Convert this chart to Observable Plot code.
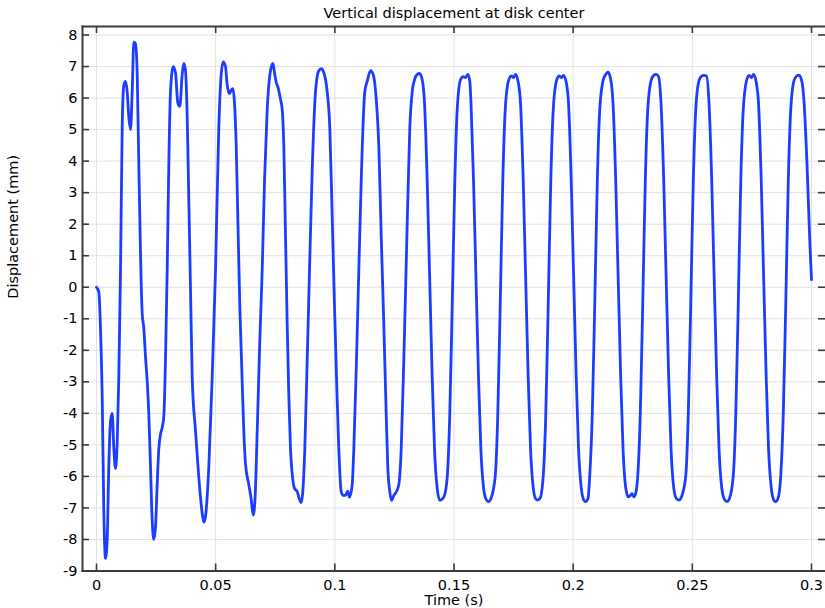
<!DOCTYPE html>
<html>
<head>
<meta charset="utf-8">
<script src="https://cdn.jsdelivr.net/npm/d3@7"></script>
<script src="https://cdn.jsdelivr.net/npm/@observablehq/plot@0.6"></script>
<style>
html, body { margin: 0; padding: 0; background: #fff; overflow: hidden; }
</style>
</head>
<body>
<div id="chart"></div>
<script>
const title = "Vertical displacement at disk center";
const xLabel = "Time (s)";
const yLabel = "Displacement (mm)";
const xTicks = [0, 0.05, 0.1, 0.15, 0.2, 0.25, 0.3];
const yTicks = [-9, -8, -7, -6, -5, -4, -3, -2, -1, 0, 1, 2, 3, 4, 5, 6, 7, 8];

// time (s)
const time = [
  0, 0.00097, 0.00168, 0.00239, 0.00306, 0.00378, 0.00449, 0.00516, 0.00587, 0.00659,
  0.00726, 0.00797, 0.00869, 0.00936, 0.01007, 0.01078, 0.01145, 0.01217, 0.01288, 0.01355,
  0.01427, 0.01498, 0.01565, 0.01636, 0.01708, 0.01775, 0.01846, 0.01917, 0.01985, 0.02056,
  0.02127, 0.02194, 0.02266, 0.02337, 0.02404, 0.02476, 0.02547, 0.02614, 0.02685, 0.02757,
  0.02824, 0.02895, 0.02966, 0.03034, 0.03105, 0.03218, 0.03315, 0.03411, 0.03495, 0.03596,
  0.03663, 0.03734, 0.03806, 0.03873, 0.03944, 0.04015, 0.04154, 0.04292, 0.04435, 0.04502,
  0.04573, 0.04712, 0.04855, 0.04993, 0.05131, 0.05232, 0.05316, 0.05413, 0.05484, 0.05580,
  0.05652, 0.05719, 0.05790, 0.05862, 0.05929, 0.06013, 0.06084, 0.06180, 0.06252, 0.06390,
  0.06491, 0.06575, 0.06659, 0.06743, 0.06852, 0.06952, 0.07049, 0.07162, 0.07301, 0.07406,
  0.07469, 0.07552, 0.07607, 0.07720, 0.07792, 0.07859, 0.07930, 0.08001, 0.08069, 0.08140,
  0.08211, 0.08308, 0.08421, 0.08488, 0.08589, 0.08656, 0.08740, 0.08841, 0.08937, 0.09050,
  0.09189, 0.09327, 0.09428, 0.09537, 0.09680, 0.09789, 0.09890, 0.09986, 0.10070, 0.10166,
  0.10267, 0.10351, 0.10448, 0.10544, 0.10615, 0.10729, 0.10796, 0.10909, 0.11006, 0.11119,
  0.11257, 0.11358, 0.11497, 0.11610, 0.11748, 0.11845, 0.11945, 0.12055, 0.12155, 0.12222,
  0.12306, 0.12378, 0.12474, 0.12587, 0.12684, 0.12785, 0.12894, 0.13007, 0.13145, 0.13246,
  0.13343, 0.13456, 0.13552, 0.13666, 0.13762, 0.13876, 0.13972, 0.14085, 0.14182, 0.14295,
  0.14404, 0.14505, 0.14601, 0.14715, 0.14824, 0.14924, 0.15034, 0.15134, 0.15273, 0.15386,
  0.15483, 0.15579, 0.15663, 0.15713, 0.15818, 0.15915, 0.16028, 0.16125, 0.16238, 0.16343,
  0.16448, 0.16552, 0.16729, 0.16838, 0.16938, 0.17048, 0.17148, 0.17287, 0.17400, 0.17497,
  0.17580, 0.17694, 0.17790, 0.17904, 0.18000, 0.18113, 0.18210, 0.18323, 0.18432, 0.18504,
  0.18608, 0.18743, 0.18852, 0.18952, 0.19062, 0.19162, 0.19301, 0.19414, 0.19511, 0.19594,
  0.19708, 0.19804, 0.19918, 0.20014, 0.20127, 0.20224, 0.20337, 0.20446, 0.20518, 0.20622,
  0.20694, 0.20803, 0.20904, 0.21013, 0.21113, 0.21252, 0.21365, 0.21462, 0.21575, 0.21671,
  0.21785, 0.21881, 0.21994, 0.22091, 0.22204, 0.22313, 0.22406, 0.22469, 0.22544, 0.22636,
  0.22708, 0.22817, 0.22917, 0.23027, 0.23127, 0.23266, 0.23379, 0.23476, 0.23572, 0.23685,
  0.23799, 0.23895, 0.24008, 0.24105, 0.24218, 0.24327, 0.24462, 0.24566, 0.24722, 0.24831,
  0.24931, 0.25041, 0.25141, 0.25280, 0.25393, 0.25490, 0.25594, 0.25699, 0.25813, 0.25909,
  0.26022, 0.26119, 0.26232, 0.26341, 0.26455, 0.26559, 0.26715, 0.26824, 0.26925, 0.27034,
  0.27134, 0.27273, 0.27386, 0.27483, 0.27566, 0.27680, 0.27776, 0.27890, 0.27986, 0.28099,
  0.28196, 0.28309, 0.28418, 0.28490, 0.28594, 0.28708, 0.28817, 0.28918, 0.29027, 0.29127,
  0.29266, 0.29379, 0.29476, 0.29589, 0.29685, 0.29812, 0.29937, 0.30000
];

// vertical displacement (mm)
const displacement = [
  0, -0.15, -1.3, -3.45, -7.05, -8.6, -8.0, -5.7, -4.25, -4.0,
  -5.1, -5.75, -4.9, -2.85, 0.53, 5.05, 6.4, 6.53, 6.2, 5.4,
  5.0, 6.2, 7.77, 7.72, 6.75, 3.9, 1.1, -0.83, -1.3, -2.2,
  -2.98, -4.0, -5.7, -7.4, -8.0, -7.6, -6.25, -5.13, -4.67, -4.45,
  -4.1, -2.3, 0.53, 3.9, 6.2, 7.0, 6.8, 5.85, 5.74, 6.75,
  7.1, 6.87, 5.4, 2.8, -0.05, -2.85, -4.56, -6.03, -7.17, -7.45,
  -7.27, -5.7, -2.85, 0.53, 5.05, 6.75, 7.15, 7.0, 6.42, 6.14,
  6.25, 6.3, 5.85, 4.5, 2.23, -0.6, -2.3, -4.56, -5.6, -6.26,
  -6.72, -7.23, -6.6, -4.56, -1.7, 0.53, 3.36, 5.63, 6.87, 7.1,
  6.8, 6.47, 6.36, 5.96, 5.63, 4.5, 1.66, -1.17, -3.43, -5.13,
  -5.92, -6.38, -6.48, -6.66, -6.83, -6.48, -5.13, -2.3, 0.53, 3.7,
  6.2, 6.87, 6.93, 6.81, 6.2, 5.05, 2.23, -0.6, -2.85, -5.13,
  -6.48, -6.6, -6.6, -6.47, -6.66, -6.26, -5.13, -2.3, 0.53, 3.7,
  6.2, 6.53, 6.87, 6.75, 5.85, 4.5, 1.66, -1.17, -4.0, -5.7,
  -6.48, -6.76, -6.6, -6.48, -6.26, -5.13, -2.3, 1.1, 5.05, 6.2,
  6.58, 6.75, 6.78, 6.58, 5.85, 3.36, 0.53, -2.85, -5.13, -6.38,
  -6.76, -6.72, -6.6, -6.03, -4.0, -0.6, 3.36, 5.63, 6.58, 6.68,
  6.65, 6.75, 6.53, 5.85, 3.4, 0.5, -2.85, -5.1, -6.35, -6.72,
  -6.8, -6.7, -6.0, -4.0, -0.6, 3.4, 5.6, 6.55, 6.7, 6.65,
  6.75, 6.5, 5.85, 3.4, 0.5, -2.85, -5.1, -6.35, -6.72, -6.75,
  -6.7, -6.0, -4.0, -0.6, 3.4, 5.6, 6.55, 6.7, 6.65, 6.72,
  6.5, 5.85, 3.4, 0.5, -2.85, -5.1, -6.35, -6.75, -6.8, -6.7,
  -6.0, -4.0, -0.6, 3.4, 5.6, 6.55, 6.75, 6.82, 6.6, 5.85,
  3.4, 0.5, -2.85, -5.1, -6.35, -6.65, -6.6, -6.55, -6.65, -6.5,
  -6.0, -4.0, -0.6, 3.4, 5.6, 6.55, 6.72, 6.75, 6.7, 5.85,
  3.4, 0.5, -2.85, -5.1, -6.35, -6.7, -6.75, -6.6, -6.0, -4.0,
  -0.6, 3.4, 5.6, 6.55, 6.7, 6.72, 6.7, 5.85, 3.4, 0.5,
  -2.85, -5.1, -6.35, -6.72, -6.8, -6.7, -6.0, -4.0, -0.6, 3.4,
  5.6, 6.55, 6.72, 6.65, 6.75, 6.5, 5.85, 3.4, 0.5, -2.85,
  -5.1, -6.35, -6.75, -6.8, -6.7, -6.0, -4.0, -0.6, 3.4, 5.6,
  6.55, 6.7, 6.73, 6.55, 5.9, 3.9, 1.3, 0.24
];

const data = time.map((t, i) => ({t, v: displacement[i]}));

const W = 825, H = 608;
const mT = 26, mB = 37.5, mL = 82, mR = 0;
const fw = W - mL - mR, fh = H - mT - mB;
const axisColor = "#3a3a3a";
const gridColor = "#e2e2e2";
const lineColor = "#1c3cff";
const tickLen = 7;
const fs = 14.5;

const chart = Plot.plot({
  width: W,
  height: H,
  marginTop: mT,
  marginBottom: mB,
  marginLeft: mL,
  marginRight: mR,
  style: {fontFamily: "'DejaVu Sans', sans-serif", fontSize: fs + "px", background: "#fff", color: "#000"},
  x: {domain: [-0.005874, 0.305874]},
  y: {domain: [-9, 8.27]},
  marks: [
    Plot.gridX(xTicks, {stroke: gridColor, strokeOpacity: 1, strokeWidth: 1}),
    Plot.gridY(yTicks, {stroke: gridColor, strokeOpacity: 1, strokeWidth: 1}),
    Plot.line(data, {x: "t", y: "v", stroke: lineColor, strokeWidth: 2.8, curve: "monotone-x"}),
    Plot.tickX(xTicks, {x: d => d, insetTop: fh - tickLen, stroke: axisColor, strokeWidth: 1.6}),
    Plot.tickX(xTicks, {x: d => d, insetBottom: fh - tickLen, stroke: axisColor, strokeWidth: 1.6}),
    Plot.tickY(yTicks, {y: d => d, insetRight: fw - tickLen, stroke: axisColor, strokeWidth: 1.6}),
    Plot.tickY(yTicks, {y: d => d, insetLeft: fw - tickLen, stroke: axisColor, strokeWidth: 1.6}),
    Plot.frame({anchor: "top", stroke: axisColor, strokeWidth: 2}),
    Plot.frame({anchor: "bottom", stroke: axisColor, strokeWidth: 2}),
    Plot.frame({anchor: "left", stroke: axisColor, strokeWidth: 2}),
    Plot.axisX(xTicks, {tickSize: 0, tickPadding: 9, tickFormat: d => String(d), label: null}),
    Plot.axisY(yTicks, {tickSize: 0, tickPadding: 5, tickFormat: d => String(d), label: null}),
    Plot.text([title], {text: d => d, frameAnchor: "top", lineAnchor: "middle", dy: -13.5, fontSize: fs}),
    Plot.text([xLabel], {text: d => d, frameAnchor: "bottom", lineAnchor: "middle", dy: 29.5, fontSize: fs}),
    Plot.text([yLabel], {text: d => d, frameAnchor: "left", lineAnchor: "middle", rotate: -90, dx: -69, fontSize: fs})
  ]
});

document.getElementById("chart").appendChild(chart);
</script>
</body>
</html>
